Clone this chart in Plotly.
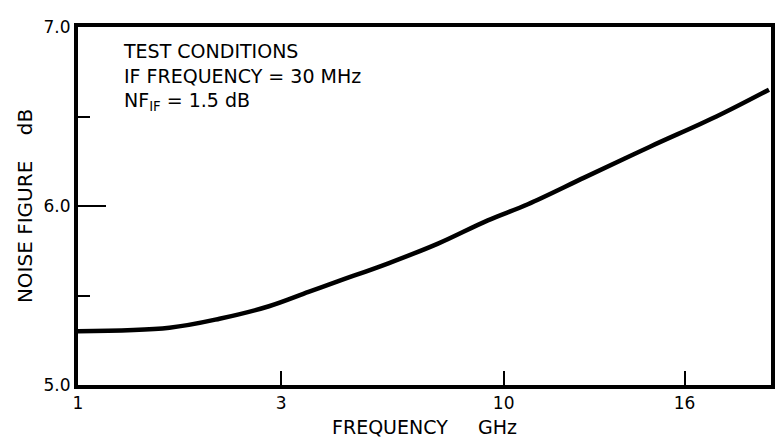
import plotly.graph_objects as go

# curve (x in axis units of the drawn log scale, y in dB)
freq = [1.0, 1.64, 2.15, 2.81, 3.48, 4.09, 5.36, 7.01, 9.18, 11.4, 15.5, 22.0, 31.6, 42.0]
noise_fig = [5.30, 5.32, 5.37, 5.44, 5.52, 5.58, 5.68, 5.79, 5.92, 6.01, 6.16, 6.33, 6.50, 6.65]

x_tick_vals = [1, 3, 10, 26.6]
x_tick_text = ['1', '3', '10', '16']
y_tick_vals = [5.0, 6.0, 7.0]
y_tick_text = ['5.0', '6.0', '7.0']

fam = 'DejaVu Sans, Arial, sans-serif'
font = dict(family=fam, size=17, color='black')
xtitle_font = dict(family=fam, size=19, color='black')
ytitle_font = dict(family=fam, size=20, color='black')
note_font = dict(family=fam, size=19, color='black')

curve = go.Scatter(x=freq, y=noise_fig, mode='lines',
                   line=dict(color='black', width=4.5, shape='spline'),
                   showlegend=False, hoverinfo='skip')

layout = go.Layout(
    width=776, height=437,
    margin=dict(l=70, r=9, t=10, b=59),
    paper_bgcolor='white', plot_bgcolor='white',
    font=font,
    xaxis=dict(type='log', range=[0, 1.628],
               tickvals=x_tick_vals, ticktext=x_tick_text,
               ticks='inside', ticklen=14, tickwidth=1.5, tickcolor='black',
               showline=True, linewidth=4, linecolor='black', mirror=True,
               showgrid=False, zeroline=False,
               title=dict(text='FREQUENCY' + '\u00a0' * 5 + 'GHz', standoff=9,
                          font=xtitle_font)),
    yaxis=dict(range=[5.0, 7.0],
               tickvals=y_tick_vals, ticktext=y_tick_text,
               ticks='inside', ticklen=28, tickwidth=1.5, tickcolor='black',
               minor=dict(tickvals=[5.5, 6.5], ticks='inside', ticklen=12,
                          tickwidth=1.5, tickcolor='black', showgrid=False),
               showline=True, linewidth=4, linecolor='black', mirror=True,
               showgrid=False, zeroline=False,
               title=dict(text='NOISE FIGURE' + '\u00a0' * 4 + 'dB', standoff=7,
                          font=ytitle_font)),
    annotations=[dict(xref='paper', yref='paper', x=0.062, y=0.97,
                      xanchor='left', yanchor='top', align='left', showarrow=False,
                      text='TEST CONDITIONS<br>IF FREQUENCY = 30 MHz<br>NF<sub>IF</sub> = 1.5 dB',
                      font=note_font)]
)

fig = go.Figure(data=[curve], layout=layout)
fig.write_html('out.html')
